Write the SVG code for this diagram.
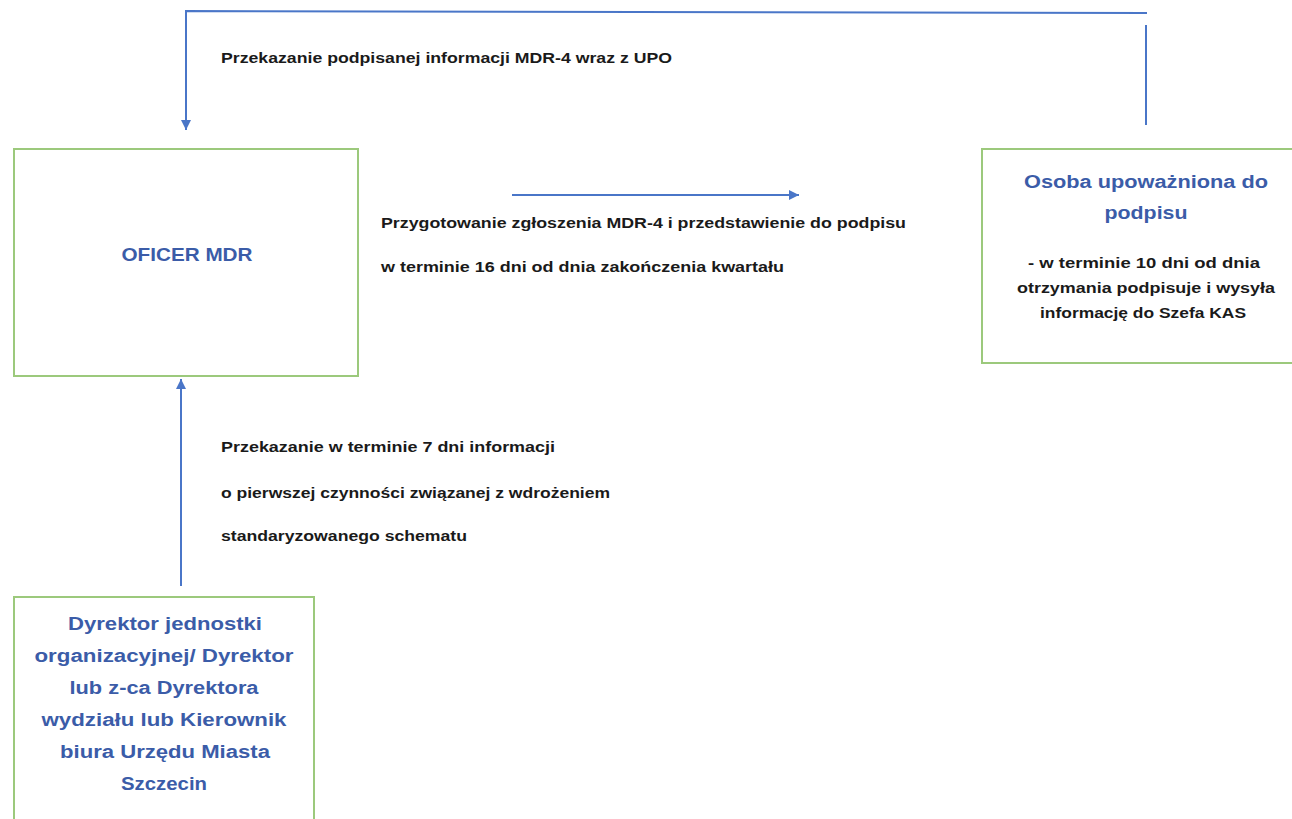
<svg xmlns="http://www.w3.org/2000/svg" width="1292" height="819" viewBox="0 0 1292 819">
<defs>
<style>
.box{fill:#fff;stroke:#9cc97c;stroke-width:2}
.line{fill:none;stroke:#4a76c8;stroke-width:2}
.lbl{font-family:"Liberation Sans",Arial,sans-serif;font-weight:bold;font-size:14px;fill:#1a1a1a}
.ttl{font-family:"Liberation Sans",Arial,sans-serif;font-weight:bold;font-size:18px;fill:#3b5ca8}
.sub{font-family:"Liberation Sans",Arial,sans-serif;font-weight:bold;font-size:14.5px;fill:#1a1a1a}
</style>
<marker id="ah" viewBox="0 0 10 10" refX="10" refY="5" markerWidth="5" markerHeight="5" orient="auto" markerUnits="strokeWidth">
<path d="M0,0 L10,5 L0,10 z" fill="#4a76c8"/>
</marker>
</defs>
<rect width="1292" height="819" fill="#fff"/>
<g id="connectors">
<path class="line" d="M1146,125 L1146,25"/>
<path class="line" d="M1147,13 L186,11 L186,130" marker-end="url(#ah)"/>
<path class="line" d="M512,195 L799,195" marker-end="url(#ah)"/>
<path class="line" d="M181,586 L181,379" marker-end="url(#ah)"/>
<text class="lbl" x="221" y="63" textLength="451" lengthAdjust="spacingAndGlyphs">Przekazanie podpisanej  informacji MDR-4 wraz z UPO</text>
<text class="lbl" x="381" y="228" textLength="525" lengthAdjust="spacingAndGlyphs">Przygotowanie zgłoszenia MDR-4  i przedstawienie do podpisu</text>
<text class="lbl" x="381" y="272" textLength="403" lengthAdjust="spacingAndGlyphs">w terminie 16 dni od dnia  zakończenia kwartału</text>
<text class="lbl" x="221" y="452" textLength="334" lengthAdjust="spacingAndGlyphs">Przekazanie w terminie 7 dni informacji</text>
<text class="lbl" x="221" y="498" textLength="389" lengthAdjust="spacingAndGlyphs">o pierwszej czynności  związanej z wdrożeniem</text>
<text class="lbl" x="221" y="541" textLength="246" lengthAdjust="spacingAndGlyphs">standaryzowanego schematu</text>
</g>
<g id="oficer">
<rect class="box" x="14" y="149" width="344" height="227"/>
<text class="ttl" x="187" y="261" text-anchor="middle" textLength="131" lengthAdjust="spacingAndGlyphs">OFICER MDR</text>
</g>
<g id="osoba">
<rect class="box" x="982" y="149" width="320" height="214"/>
<text class="ttl" x="1146" y="188" text-anchor="middle" textLength="244" lengthAdjust="spacingAndGlyphs">Osoba upoważniona do</text>
<text class="ttl" x="1146" y="219" text-anchor="middle" textLength="83" lengthAdjust="spacingAndGlyphs">podpisu</text>
<text class="sub" x="1144" y="268" text-anchor="middle" textLength="232" lengthAdjust="spacingAndGlyphs">- w terminie 10 dni od dnia</text>
<text class="sub" x="1146" y="293" text-anchor="middle" textLength="258" lengthAdjust="spacingAndGlyphs">otrzymania podpisuje i wysyła</text>
<text class="sub" x="1143" y="318" text-anchor="middle" textLength="206" lengthAdjust="spacingAndGlyphs">informację do Szefa KAS</text>
</g>
<g id="dyrektor">
<rect class="box" x="14" y="597" width="300" height="240"/>
<text class="ttl" x="165" y="630" text-anchor="middle" textLength="194" lengthAdjust="spacingAndGlyphs">Dyrektor jednostki</text>
<text class="ttl" x="164" y="662" text-anchor="middle" textLength="259" lengthAdjust="spacingAndGlyphs">organizacyjnej/ Dyrektor</text>
<text class="ttl" x="164" y="694" text-anchor="middle" textLength="189" lengthAdjust="spacingAndGlyphs">lub z-ca Dyrektora</text>
<text class="ttl" x="164" y="726" text-anchor="middle" textLength="245" lengthAdjust="spacingAndGlyphs">wydziału lub Kierownik</text>
<text class="ttl" x="165" y="758" text-anchor="middle" textLength="210" lengthAdjust="spacingAndGlyphs">biura Urzędu Miasta</text>
<text class="ttl" x="164" y="790" text-anchor="middle" textLength="86" lengthAdjust="spacingAndGlyphs">Szczecin</text>
</g>
</svg>
